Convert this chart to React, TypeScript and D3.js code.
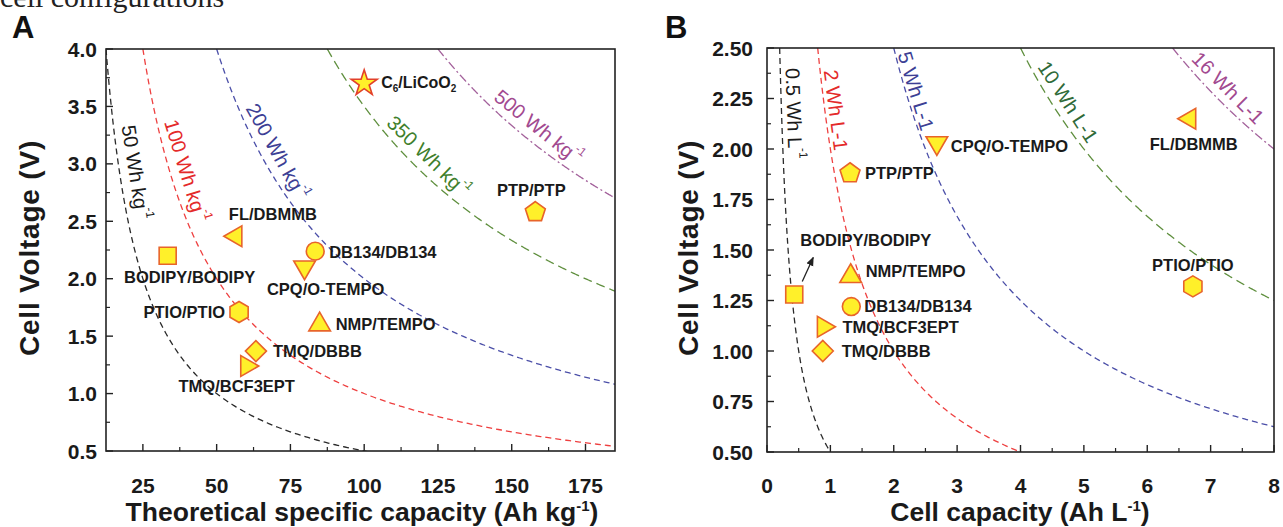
import React from 'react';
import * as d3 from 'd3';

// ---------- Panel A data (Theoretical specific capacity, Ah/kg vs Cell voltage, V) ----------
const aNames = ['C6/LiCoO2', 'PTP/PTP', 'FL/DBMMB', 'BODIPY/BODIPY', 'DB134/DB134', 'CPQ/O-TEMPO', 'PTIO/PTIO', 'NMP/TEMPO', 'TMQ/DBBB', 'TMQ/BCF3EPT'];
const aCapacity = [100, 158, 56.5, 33.4, 83.4, 79.8, 57.6, 84.9, 63.3, 60.2];
const aVoltage = [3.7, 2.58, 2.37, 2.2, 2.24, 2.1, 1.71, 1.6, 1.37, 1.24];
const aShapes = ['star', 'pentagon', 'triLeft', 'square', 'circle', 'triDown', 'hexagon', 'triUp', 'diamond', 'triRight'];
const aEnergy = [50, 100, 200, 350, 500];
const aEnergyText = ['50 Wh kg', '100 Wh kg', '200 Wh kg', '350 Wh kg', '500 Wh kg'];
const aEnergySup = ['-1', '-1', '-1', '-1', '-1'];
const aLabelAt = [17.2, 34.5, 65.8, 118, 155.7];
const aXTicks = [25, 50, 75, 100, 125, 150, 175];
const aYTicks = [0.5, 1.0, 1.5, 2.0, 2.5, 3.0, 3.5, 4.0];

// ---------- Panel B data (Cell capacity, Ah/L vs Cell voltage, V) ----------
const bNames = ['BODIPY/BODIPY', 'NMP/TEMPO', 'DB134/DB134', 'TMQ/BCF3EPT', 'TMQ/DBBB', 'PTP/PTP', 'CPQ/O-TEMPO', 'FL/DBMMB', 'PTIO/PTIO'];
const bCapacity = [0.43, 1.32, 1.33, 0.89, 0.88, 1.31, 2.68, 6.67, 6.72];
const bVoltage = [1.28, 1.37, 1.22, 1.12, 1.0, 1.88, 2.03, 2.15, 1.32];
const bShapes = ['square', 'triUp', 'circle', 'triRight', 'diamond', 'pentagon', 'triDown', 'triLeft', 'hexagon'];
const bEnergy = [0.5, 2, 5, 10, 16];
const bEnergyText = ['0.5 Wh L', '2 Wh L-1', '5 Wh L-1', '10 Wh L-1', '16 Wh L-1'];
const bEnergySup = ['-1', '', '', '', ''];
const bLabelAt = [0.23, 0.915, 2.2, 4.557, 7.108];
const bXTicks = [0, 1, 2, 3, 4, 5, 6, 7, 8];
const bYTicks = [0.5, 0.75, 1.0, 1.25, 1.5, 1.75, 2.0, 2.25, 2.5];

// ---------- layout / style ----------
const FONT = "'Liberation Sans', Arial, Helvetica, sans-serif";
const curveColors = ['#2a2a2a', '#ee4040', '#4b4fa8', '#5f8f3e', '#a3619b'];
const curveLabelColors = ['#1a1a1a', '#e42a2a', '#3d3f95', '#3f7f2c', '#a24a90'];
const bCurveLabelColors = ['#1a1a1a', '#e42a2a', '#3d3f95', '#2f6a38', '#a24a90'];
const curveDash = ['6,4', '6,4', '6,4', '9,5', '9,3,2,3'];
const aLabelOffset = [16, 16, 16, 16, 16];
const bLabelOffset = [12.5, 11, 10, 14.6, 14.9];

// label layouts: [dx, dy, anchor]
const aLabelLayout: [number, number, string][] = [
  [17, 5, 'start'], [-4, -16, 'middle'], [37, -16, 'middle'], [22, 27, 'middle'], [14, 7, 'start'],
  [21, 28, 'middle'], [-14, 6, 'end'], [16, 5, 'start'], [17, 6, 'start'], [-10, 26, 'middle'],
];
const bLabelLayout: [number, number, string][] = [
  [6, -48, 'start'], [15, 1, 'start'], [13, 5, 'start'], [19, 6, 'start'], [19, 6, 'start'],
  [15, 6, 'start'], [14, 9, 'start'], [4, 31, 'middle'], [0, -15, 'middle'],
];

const FILL = '#fff02a';
const EDGE = '#e8642a';

function polygon(n: number, r: number, rot: number): string {
  const pts = d3.range(n).map((i) => {
    const a = rot + (i * 2 * Math.PI) / n;
    return [r * Math.cos(a), r * Math.sin(a)];
  });
  return 'M' + pts.map((p) => p[0].toFixed(2) + ',' + p[1].toFixed(2)).join('L') + 'Z';
}

function markerPath(shape: string): string {
  switch (shape) {
    case 'circle': return d3.symbol(d3.symbolCircle, 250)()!;
    case 'square': return d3.symbol(d3.symbolSquare, 290)()!;
    case 'star': return d3.symbol(d3.symbolStar, 210)()!;
    case 'diamond': return polygon(4, 10.5, 0);
    case 'pentagon': return polygon(5, 10.5, -Math.PI / 2);
    case 'hexagon': return polygon(6, 10.5, -Math.PI / 2);
    case 'triUp': return polygon(3, 12.5, -Math.PI / 2);
    case 'triDown': return polygon(3, 12.5, Math.PI / 2);
    case 'triLeft': return polygon(3, 12, Math.PI);
    case 'triRight': return polygon(3, 12, 0);
  }
  return '';
}

type Scale = d3.ScaleLinear<number, number>;

function Frame({ x, y, xMajor, xMinor, yMajor, yMinor, xFmt, yFmt, yLabelEnd }: any) {
  const [l, r] = x.range();
  const [b, t] = y.range();
  return (
    <g>
      {xMajor.map((v: number) => (
        <line key={'xm' + v} x1={x(v)} x2={x(v)} y1={b} y2={b - 7} stroke="#222" strokeWidth={1.4} />
      ))}
      {xMinor.map((v: number) => (
        <line key={'xn' + v} x1={x(v)} x2={x(v)} y1={b} y2={b - 4} stroke="#222" strokeWidth={1.2} />
      ))}
      {yMajor.map((v: number) => (
        <line key={'ym' + v} x1={l} x2={l + 7} y1={y(v)} y2={y(v)} stroke="#222" strokeWidth={1.4} />
      ))}
      {yMinor.map((v: number) => (
        <line key={'yn' + v} x1={l} x2={l + 4} y1={y(v)} y2={y(v)} stroke="#222" strokeWidth={1.2} />
      ))}
      <rect x={l} y={t} width={r - l} height={b - t} fill="none" stroke="#222" strokeWidth={1.6} />
      {xMajor.map((v: number) => (
        <text key={'xl' + v} x={x(v)} y={493} textAnchor="middle" fontSize={21} fontWeight="bold" fontFamily={FONT} fill="#1a1a1a">
          {xFmt(v)}
        </text>
      ))}
      {yMajor.map((v: number) => (
        <text key={'yl' + v} x={yLabelEnd} y={y(v)} textAnchor="end" dominantBaseline="central" fontSize={21} fontWeight="bold" fontFamily={FONT} fill="#1a1a1a">
          {yFmt(v)}
        </text>
      ))}
    </g>
  );
}

function curveLabelPos(E: number, C: number, n: number, x: Scale, y: Scale) {
  const px = x(C), py = y(E / C);
  const h = C * 1e-3;
  const dx = x(C + h) - px, dy = y(E / (C + h)) - py;
  const ang = Math.atan2(dy, dx);
  return { cx: px + n * Math.sin(ang), cy: py - n * Math.cos(ang), deg: (ang * 180) / Math.PI };
}

function Curves({ energies, texts, sups, at, offsets, labelColors, x, y, clipId }: any) {
  const [x0, x1] = x.domain();
  const [, yMax] = y.domain();
  return (
    <g>
      <g clipPath={`url(#${clipId})`}>
        {energies.map((E: number, i: number) => {
          const c0 = Math.max(x0, E / yMax);
          const n = 300;
          const cs = d3.range(n + 1).map((k) => c0 * Math.pow(x1 / c0, k / n));
          const line = d3.line<number>().x((c) => x(c)).y((c) => y(E / c));
          return (
            <path key={E} d={line(cs)!} fill="none" stroke={curveColors[i]} strokeWidth={1.3} strokeDasharray={curveDash[i]} />
          );
        })}
      </g>
      {energies.map((E: number, i: number) => {
        const p = curveLabelPos(E, at[i], offsets[i], x, y);
        return (
          <text key={'cl' + E} transform={`translate(${p.cx},${p.cy}) rotate(${p.deg})`} textAnchor="middle" dominantBaseline="central"
            fontSize={20} fontFamily={FONT} fill={labelColors[i]}>
            {texts[i]}
            {sups[i] ? <tspan fontSize={12} dy={-8}>{sups[i]}</tspan> : null}
          </text>
        );
      })}
    </g>
  );
}

function Points({ names, caps, volts, shapes, layout, x, y }: any) {
  return (
    <g>
      {names.map((nm: string, i: number) => {
        const px = x(caps[i]), py = y(volts[i]);
        const [dx, dy, anchor] = layout[i];
        const star = shapes[i] === 'star';
        return (
          <g key={nm + i}>
            <path d={markerPath(shapes[i])} transform={`translate(${px},${py})`} fill={FILL} stroke={star ? '#e2402a' : EDGE} strokeWidth={1.6} strokeLinejoin="miter" />
            {nm === 'C6/LiCoO2' ? (
              <text x={px + dx} y={py + dy} textAnchor={anchor} fontSize={16} fontWeight="bold" fontFamily={FONT} fill="#1a1a1a">
                C<tspan fontSize={10} dy={4}>6</tspan>
                <tspan dy={-4}>/LiCoO</tspan>
                <tspan fontSize={10} dy={4}>2</tspan>
              </text>
            ) : (
              <text x={px + dx} y={py + dy} textAnchor={anchor} fontSize={16.5} fontWeight="bold" fontFamily={FONT} fill="#1a1a1a">
                {nm}
              </text>
            )}
          </g>
        );
      })}
    </g>
  );
}

export default function App() {
  const xA = d3.scaleLinear().domain([12.5, 185]).range([106, 615]);
  const yA = d3.scaleLinear().domain([0.5, 4]).range([451, 49]);
  const xB = d3.scaleLinear().domain([0, 8]).range([767, 1274]);
  const yB = d3.scaleLinear().domain([0.5, 2.5]).range([452, 48]);

  const aXMinor = d3.range(37.5, 185, 25);
  const aYMinor = d3.range(0.75, 4, 0.5);
  const bXMinor = d3.range(0.5, 8, 1);
  const bYMinor = d3.range(0.625, 2.5, 0.25);

  // arrow for BODIPY label in B
  const bi = bNames.indexOf('BODIPY/BODIPY');
  const bx = xB(bCapacity[bi]), by = yB(bVoltage[bi]);

  return (
    <svg width={1283} height={527} style={{ position: 'absolute', left: 0, top: 0, background: '#fff' }}>
      <defs>
        <clipPath id="clipA"><rect x={106} y={49} width={509} height={402} /></clipPath>
        <clipPath id="clipB"><rect x={767} y={48} width={507} height={404} /></clipPath>
        <marker id="arrowHead" viewBox="0 0 10 10" refX={9} refY={5} markerWidth={7} markerHeight={7} orient="auto">
          <path d="M0,1 L10,5 L0,9 Z" fill="#222" />
        </marker>
      </defs>
      <rect width={1283} height={527} fill="#fff" />

      <text x={0} y={7} fontSize={30} fontFamily="'Liberation Serif', 'Times New Roman', serif" fill="#222">cell configurations</text>

      {/* Panel A */}
      <text x={12} y={38} fontSize={31} fontWeight="bold" fontFamily={FONT} fill="#111">A</text>
      <Curves energies={aEnergy} texts={aEnergyText} sups={aEnergySup} at={aLabelAt} offsets={aLabelOffset}
        labelColors={curveLabelColors} x={xA} y={yA} clipId="clipA" />
      <Frame x={xA} y={yA} xMajor={aXTicks} xMinor={aXMinor} yMajor={aYTicks} yMinor={aYMinor}
        xFmt={(v: number) => String(v)} yFmt={(v: number) => v.toFixed(1)} yLabelEnd={97} />
      <Points names={aNames} caps={aCapacity} volts={aVoltage} shapes={aShapes} layout={aLabelLayout} x={xA} y={yA} />
      <text x={362} y={521} textAnchor="middle" fontSize={26.5} fontWeight="bold" fontFamily={FONT} fill="#1a1a1a">
        Theoretical specific capacity (Ah kg<tspan fontSize={15} dy={-10}>-1</tspan><tspan dy={10}>)</tspan>
      </text>
      <text transform="translate(39,248) rotate(-90)" textAnchor="middle" fontSize={28} fontWeight="bold" fontFamily={FONT} fill="#1a1a1a" letterSpacing={0.8}>
        Cell Voltage (V)
      </text>

      {/* Panel B */}
      <text x={665} y={38} fontSize={31} fontWeight="bold" fontFamily={FONT} fill="#111">B</text>
      <Curves energies={bEnergy} texts={bEnergyText} sups={bEnergySup} at={bLabelAt} offsets={bLabelOffset}
        labelColors={bCurveLabelColors} x={xB} y={yB} clipId="clipB" />
      <Frame x={xB} y={yB} xMajor={bXTicks} xMinor={bXMinor} yMajor={bYTicks} yMinor={bYMinor}
        xFmt={(v: number) => String(v)} yFmt={(v: number) => v.toFixed(2)} yLabelEnd={753} />
      <line x1={bx + 8} y1={by - 13} x2={bx + 19} y2={by - 37} stroke="#222" strokeWidth={1.3} markerEnd="url(#arrowHead)" />
      <Points names={bNames} caps={bCapacity} volts={bVoltage} shapes={bShapes} layout={bLabelLayout} x={xB} y={yB} />
      <text x={1020} y={521} textAnchor="middle" fontSize={26.5} fontWeight="bold" fontFamily={FONT} fill="#1a1a1a">
        Cell capacity (Ah L<tspan fontSize={15} dy={-10}>-1</tspan><tspan dy={10}>)</tspan>
      </text>
      <text transform="translate(698,248) rotate(-90)" textAnchor="middle" fontSize={28} fontWeight="bold" fontFamily={FONT} fill="#1a1a1a" letterSpacing={0.8}>
        Cell Voltage (V)
      </text>
    </svg>
  );
}
